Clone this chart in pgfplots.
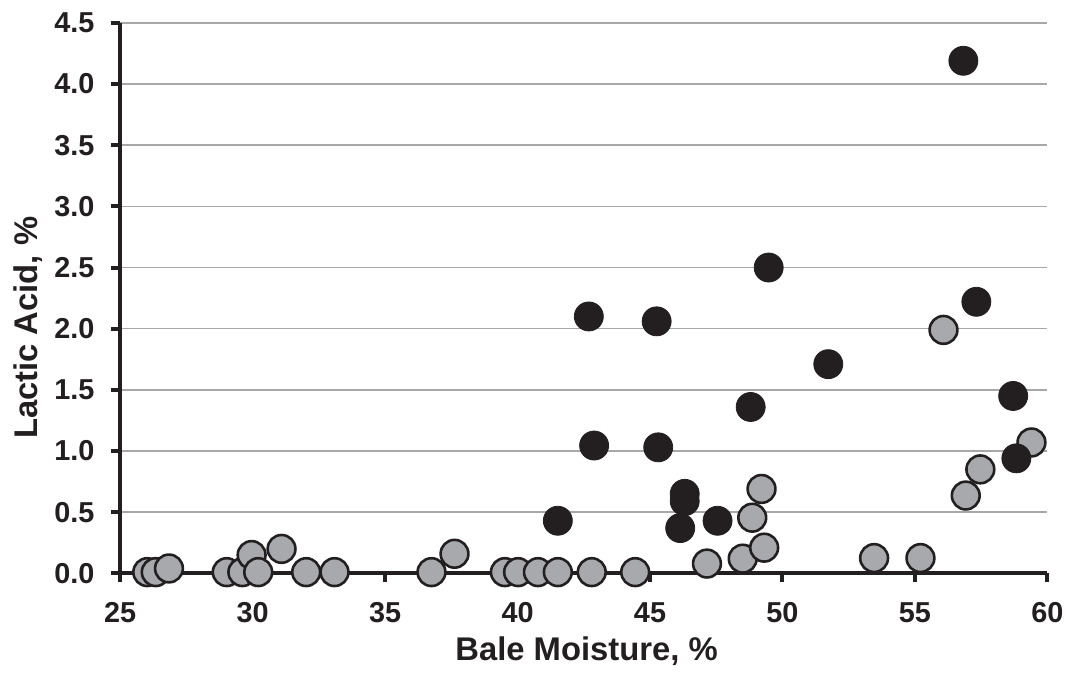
\documentclass[border=0pt]{standalone}
\usepackage{fontspec}
\setmainfont{Liberation Sans}
\usepackage{pgfplots}
\pgfplotsset{compat=1.18}
\definecolor{dotgray}{HTML}{A7A9AC}
\definecolor{dotblack}{HTML}{231F20}
\definecolor{gridgray}{HTML}{A8A8A8}
\begin{document}
\begin{tikzpicture}
\begin{axis}[
  name=ax,
  scale only axis,
  width=466.5pt, height=277pt,
  xmin=25, xmax=60, ymin=0, ymax=4.5,
  xtick={25,30,...,60},
  ytick={0,0.5,...,4.5},
  axis x line=bottom, axis y line=left,
  axis line style={-, line width=2pt, color=dotblack},
  tick style={line width=2pt, color=dotblack},
  tick align=outside, major tick length=4.5pt,
  ymajorgrids, major grid style={line width=0.7pt, color=gridgray},
  clip=false,
  /pgf/number format/assume math mode=true,
  ticklabel style={font=\bfseries\fontsize{14.5}{16}\selectfont, color=dotblack},
  yticklabel style={/pgf/number format/.cd, fixed, fixed zerofill, precision=1, /tikz/.cd, xshift=-5pt},
  xticklabel style={/pgf/number format/.cd, fixed, precision=0, /tikz/.cd, yshift=-6.5pt},
  xlabel={Bale Moisture, \%},
  ylabel={Lactic Acid, \%},
  label style={font=\bfseries\fontsize{16.5}{18}\selectfont, color=dotblack},
  xlabel style={at={(axis description cs:0.503,-0.158)}, anchor=base},
  ylabel style={at={(axis description cs:-0.089,0.446)}, anchor=base},
]
\addplot[only marks, mark=*, mark size=7pt,
  mark options={fill=dotgray, draw=dotblack, line width=1.3pt}]
  coordinates {
  (26.02,0.01) (26.34,0.01) (26.84,0.04) (29.02,0.01) (29.61,0.01)
  (29.96,0.15) (30.21,0.01) (31.09,0.20) (32.02,0.01) (33.09,0.01)
  (36.75,0.01) (37.62,0.16) (39.52,0.01) (40.02,0.01) (40.77,0.01)
  (41.52,0.01) (42.80,0.01) (44.44,0.01) (47.15,0.08) (48.50,0.12)
  (49.31,0.21) (48.86,0.455) (49.21,0.69) (53.46,0.125) (55.21,0.125)
  (56.08,1.99) (56.92,0.636) (57.47,0.85) (59.40,1.07)
  };
\addplot[only marks, mark=*, mark size=7.3pt,
  mark options={fill=dotblack, draw=dotblack, line width=0.4pt}]
  coordinates {
  (56.83,4.19) (49.48,2.50) (57.32,2.22) (42.69,2.10) (45.25,2.06)
  (51.73,1.71) (58.71,1.45) (48.80,1.36) (42.89,1.045) (45.31,1.03)
  (58.83,0.94) (46.31,0.65) (46.31,0.59) (46.14,0.37) (47.55,0.43)
  (41.52,0.43)
  };
\end{axis}
\path (ax.south west) ++(-60.5pt,-45pt);
\path (ax.north east) ++(8pt,11.5pt);
\end{tikzpicture}
\end{document}
